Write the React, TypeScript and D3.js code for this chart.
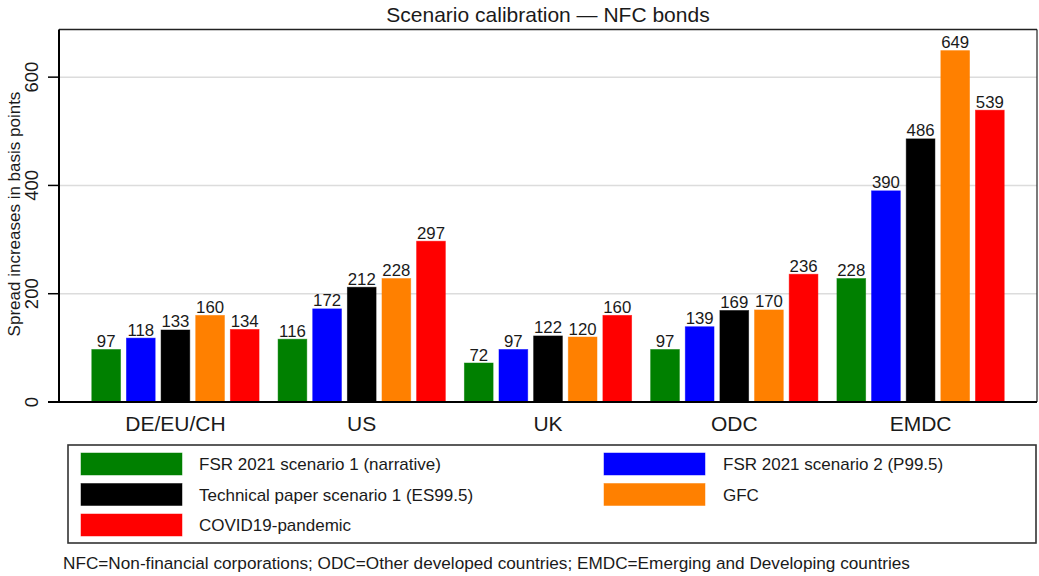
import React from "react";
import * as d3 from "d3";

const categories = ["DE/EU/CH", "US", "UK", "ODC", "EMDC"];
const seriesNames = [
  "FSR 2021 scenario 1 (narrative)",
  "FSR 2021 scenario 2 (P99.5)",
  "Technical paper scenario 1 (ES99.5)",
  "GFC",
  "COVID19-pandemic",
];
const fsr1 = [97, 116, 72, 97, 228];
const fsr2 = [118, 172, 97, 139, 390];
const tech = [133, 212, 122, 169, 486];
const gfc = [160, 228, 120, 170, 649];
const covid = [134, 297, 160, 236, 539];
const seriesValues = [fsr1, fsr2, tech, gfc, covid];
const colors = ["#008000", "#0000ff", "#000000", "#ff8000", "#ff0000"];
const yTicks = [0, 200, 400, 600];

const W = 1039;
const H = 576;
const M = { left: 59, right: 1037, top: 29.5, bottom: 402 };
const FONT = "'Liberation Sans', Arial, Helvetica, sans-serif";
const TEXT = "#1a1a1a";

export default function App() {
  const y = d3.scaleLinear().domain([0, 688]).range([M.bottom, M.top]);
  const x0 = d3
    .scaleBand<string>()
    .domain(categories)
    .range([M.left, M.right])
    .paddingInner(0.102)
    .paddingOuter(0.176);
  const x1 = d3
    .scaleBand<number>()
    .domain(d3.range(seriesNames.length))
    .range([0, x0.bandwidth()])
    .paddingInner(0.17)
    .paddingOuter(0);

  const legendCols = [
    { sx: 81, tx: 199 },
    { sx: 604, tx: 723 },
  ];
  const legendRowY = [453, 483.5, 514];

  return (
    <svg
      width={W}
      height={H}
      style={{ position: "absolute", left: 0, top: 0, background: "#fff" }}
      fontFamily={FONT}
    >
      <rect x={0} y={0} width={W} height={H} fill="#fff" />
      <text x={(M.left + M.right) / 2} y={22} textAnchor="middle" fontSize={21} fill={TEXT}>
        Scenario calibration — NFC bonds
      </text>

      {yTicks
        .filter((t) => t > 0)
        .map((t) => (
          <line key={"g" + t} x1={M.left} x2={M.right} y1={y(t)} y2={y(t)} stroke="#dcdcdc" strokeWidth={1.5} />
        ))}

      <line x1={M.left} x2={M.right} y1={M.top} y2={M.top} stroke="#222" strokeWidth={1.5} />
      <line x1={M.right} x2={M.right} y1={M.top} y2={M.bottom} stroke="#222" strokeWidth={1.2} />

      {categories.map((c, ci) => (
        <g key={c} transform={`translate(${x0(c)},0)`}>
          {seriesValues.map((vals, si) => {
            const v = vals[ci];
            const bx = x1(si) as number;
            return (
              <g key={si}>
                <rect
                  x={bx}
                  y={y(v)}
                  width={x1.bandwidth()}
                  height={y(0) - y(v)}
                  fill={colors[si]}
                  stroke={colors[si]}
                  strokeOpacity={0.6}
                  strokeWidth={0.8}
                />
                <text
                  x={bx + x1.bandwidth() / 2}
                  y={y(v) - 2.5}
                  textAnchor="middle"
                  fontSize={16.8}
                  fill={TEXT}
                >
                  {v}
                </text>
              </g>
            );
          })}
        </g>
      ))}

      <line x1={M.left} x2={M.left} y1={M.top} y2={M.bottom} stroke="#000" strokeWidth={2} />
      <line x1={M.left - 11} x2={M.right} y1={M.bottom} y2={M.bottom} stroke="#000" strokeWidth={2} />
      {yTicks.map((t) => (
        <g key={"t" + t}>
          <line x1={M.left - 11} x2={M.left} y1={y(t)} y2={y(t)} stroke="#000" strokeWidth={1.5} />
          <text
            transform={`translate(38,${y(t)}) rotate(-90)`}
            textAnchor="middle"
            fontSize={18.5}
            fill={TEXT}
          >
            {t}
          </text>
        </g>
      ))}
      <text
        transform={`translate(20,${214}) rotate(-90)`}
        textAnchor="middle"
        fontSize={17}
        fill={TEXT}
      >
        Spread increases in basis points
      </text>

      {categories.map((c) => (
        <text
          key={"c" + c}
          x={(x0(c) as number) + x0.bandwidth() / 2}
          y={431}
          textAnchor="middle"
          fontSize={21}
          fill={TEXT}
        >
          {c}
        </text>
      ))}

      <rect x={68} y={445} width={968} height={98} fill="#fff" stroke="#333" strokeWidth={1.6} />
      {seriesNames.map((name, i) => {
        const col = legendCols[i % 2];
        const ry = legendRowY[Math.floor(i / 2)];
        return (
          <g key={"l" + i}>
            <rect x={col.sx} y={ry} width={101} height={22} fill={colors[i]} stroke={colors[i]} strokeOpacity={0.6} strokeWidth={0.8} />
            <text x={col.tx} y={ry + 17} fontSize={17} fill={TEXT}>
              {name}
            </text>
          </g>
        );
      })}

      <text x={63} y={569} fontSize={17.2} fill={TEXT}>
        NFC=Non-financial corporations; ODC=Other developed countries; EMDC=Emerging and Developing countries
      </text>
    </svg>
  );
}
